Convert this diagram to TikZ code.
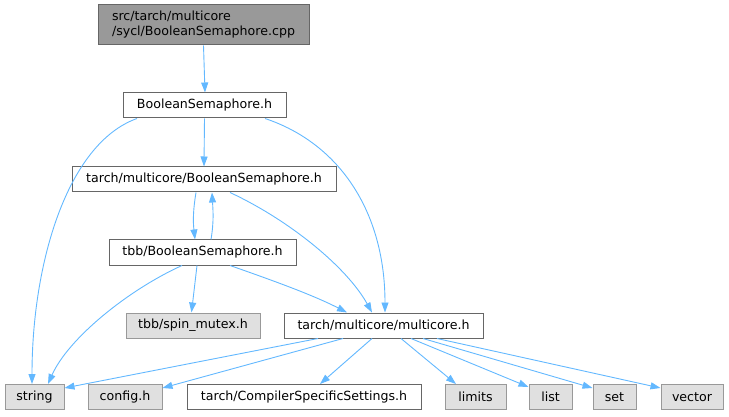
\documentclass[tikz,border=0pt]{standalone}
\usepackage{fontspec}
\setmainfont{DejaVu Sans}
\usetikzlibrary{arrows.meta}
\definecolor{edgec}{HTML}{63B8FF}
\definecolor{graybox}{HTML}{E0E0E0}
\definecolor{grayline}{HTML}{999999}
\definecolor{darkline}{HTML}{666666}
\definecolor{rootfill}{HTML}{999999}
\begin{document}
\begin{tikzpicture}[x=1pt,y=-1pt,
  every node/.style={font=\fontsize{12.6}{15}\selectfont, inner sep=0pt, line width=1pt},
  filebox/.style={draw=darkline, fill=white, minimum height=25pt},
  sysbox/.style={draw=grayline, fill=graybox, minimum height=25pt},
  rootbox/.style={draw=darkline, fill=rootfill, minimum height=40pt, align=left},
  dep/.style={draw=edgec, line width=0.9pt, -{Triangle[length=10pt,width=7pt]}}]
\useasboundingbox (0,0) rectangle (729,417);

\node[rootbox, minimum width=211pt] (root) at (203.5,25) {src/tarch/multicore\\/sycl/BooleanSemaphore.cpp};
\node[filebox, minimum width=163pt] (bsh) at (204.5,105.5) {BooleanSemaphore.h};
\node[filebox, minimum width=264pt] (tmbs) at (204,179.5) {tarch/multicore/BooleanSemaphore.h};
\node[filebox, minimum width=187pt] (tbb) at (202.5,252.5) {tbb/BooleanSemaphore.h};
\node[sysbox, minimum width=134pt] (spin) at (193,325.5) {tbb/spin\_mutex.h};
\node[filebox, minimum width=199pt] (mc) at (383.5,325.5) {tarch/multicore/multicore.h};
\node[sysbox, minimum width=59pt] (string) at (34.5,397) {string};
\node[sysbox, minimum width=74pt] (config) at (125,397) {config.h};
\node[filebox, minimum width=234pt] (comp) at (304,397) {tarch/CompilerSpecificSettings.h};
\node[sysbox, minimum width=61pt] (limits) at (475.5,397) {limits};
\node[sysbox, minimum width=43pt] (list) at (550.5,397) {list};
\node[sysbox, minimum width=43pt] (set) at (614.5,397) {set};
\node[sysbox, minimum width=62pt] (vector) at (692,397) {vector};

% edges
\draw[dep] (root.south) -- ([xshift=0.5pt]bsh.north);
\draw[dep] ([xshift=-67.5pt]bsh.south) .. controls +(-70,25) and +(0,-120) .. ([xshift=-2.5pt]string.north);
\draw[dep] (bsh.south) -- (tmbs.north);
\draw[dep] ([xshift=60.5pt]bsh.south) .. controls +(75,25) and +(0,-100) .. ([xshift=1.5pt]mc.north);
\draw[dep] ([xshift=-8pt]tmbs.south) .. controls +(-3,18) and +(-2,-18) .. ([xshift=-7.5pt]tbb.north);
\draw[dep] ([xshift=8.5pt]tbb.north) .. controls +(3,-18) and +(1,18) .. ([xshift=8pt]tmbs.south);
\draw[dep] ([xshift=26pt]tmbs.south) .. controls +(60,28) and +(-25,-45) .. ([xshift=-11.5pt]mc.north);
\draw[dep] ([xshift=-20.5pt]tbb.south) .. controls +(-55,25) and +(20,-45) .. ([xshift=13.5pt]string.north);
\draw[dep] ([xshift=-5.5pt]tbb.south) -- ([xshift=-1.5pt]spin.north);
\draw[dep] ([xshift=27.5pt]tbb.south) .. controls +(40,14) and +(-35,-18) .. ([xshift=-36.5pt]mc.north);
\draw[dep] ([xshift=-65.5pt]mc.south) -- ([yshift=-4pt]string.north east);
\draw[dep] ([xshift=-40.5pt]mc.south) -- ([yshift=-4pt]config.north east);
\draw[dep] ([xshift=-11.5pt]mc.south) -- ([xshift=16pt]comp.north);
\draw[dep] ([xshift=17.5pt]mc.south) -- ([xshift=-19.5pt]limits.north);
\draw[dep] ([xshift=27.5pt]mc.south) -- ([yshift=-3pt]list.north west);
\draw[dep] ([xshift=39.5pt]mc.south) -- ([yshift=-4pt]set.north west);
\draw[dep] ([xshift=53.5pt]mc.south) -- ([yshift=-4pt]vector.north west);
\end{tikzpicture}
\end{document}
